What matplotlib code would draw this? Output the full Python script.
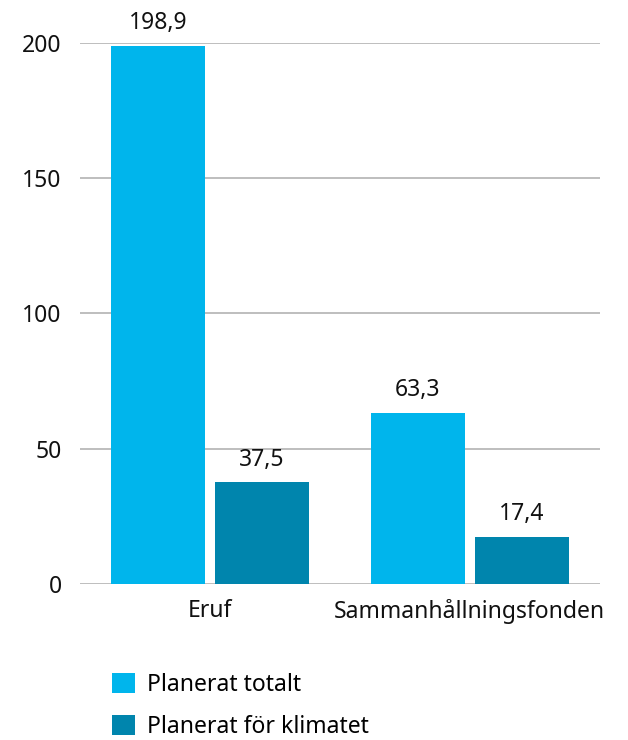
import numpy as np
import matplotlib.pyplot as plt
from matplotlib.patches import Patch

plt.rcParams['font.family'] = ['Noto Sans', 'DejaVu Sans']

categories = ["Eruf", "Sammanhållningsfonden"]
series_names = ["Planerat totalt", "Planerat för klimatet"]
totalt = [198.9, 63.3]
klimat = [37.5, 17.4]
colors = ["#00b5ec", "#0085ad"]

fig = plt.figure(figsize=(6.28, 7.4), dpi=100)
ax = fig.add_axes([0.127, 0.211, 0.828, 0.731])

x = np.arange(len(categories))
w = 0.36
off = 0.2
b1 = ax.bar(x - off, totalt, w, color=colors[0], zorder=3)
b2 = ax.bar(x + off, klimat, w, color=colors[1], zorder=3)

for bars, vals in ((b1, totalt), (b2, klimat)):
    for r, v in zip(bars, vals):
        ax.text(r.get_x() + r.get_width() / 2, v + 4, f"{v:.1f}".replace(".", ","),
                ha="center", va="bottom", fontsize=16.5, color="#111111")

ax.set_xlim(-0.5, 1.5)
ax.set_ylim(0, 200)
ax.set_yticks([0, 50, 100, 150, 200])
ax.set_xticks(x)
ax.set_xticklabels(categories)
ax.tick_params(axis="both", length=0, labelsize=16.5, colors="#111111")
ax.tick_params(axis="y", pad=13)
ax.tick_params(axis="x", pad=11)
ax.grid(axis="y", color="#b3b3b3", linewidth=1.2, zorder=0)
for s in ax.spines.values():
    s.set_visible(False)

handles = [Patch(facecolor=c) for c in colors]
fig.legend(handles, series_names, loc="upper left", bbox_to_anchor=(0.178, 0.091),
           bbox_transform=fig.transFigure, frameon=False, fontsize=16.5,
           borderpad=0, borderaxespad=0,
           handlelength=1.0, handleheight=1.0, handletextpad=0.55, labelspacing=0.78)

fig.savefig("out.png", dpi=100)
